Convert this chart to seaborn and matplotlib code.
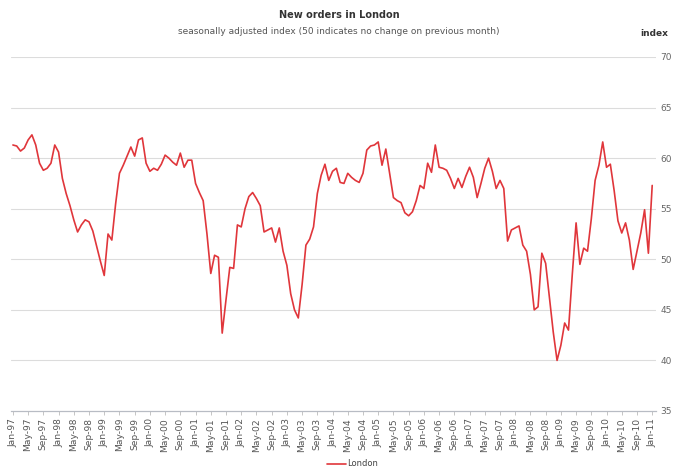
import matplotlib
matplotlib.use("Agg")
import matplotlib.pyplot as plt
import numpy as np
import pandas as pd
import seaborn as sns

# Monthly new-orders index for London, Jan-1997 .. Jan-2011
start_year = 1997
london = [
    61.3, 61.2, 60.7, 61.0, 61.8, 62.3, 61.3, 59.5, 58.8, 59.0, 59.5, 61.3,
    60.6, 58.0, 56.5, 55.3, 53.9, 52.7, 53.4, 53.9, 53.7, 52.8, 51.3, 49.8,
    48.4, 52.5, 51.9, 55.5, 58.5, 59.3, 60.2, 61.1, 60.2, 61.8, 62.0, 59.5,
    58.7, 59.0, 58.8, 59.4, 60.3, 60.0, 59.6, 59.3, 60.5, 59.1, 59.8, 59.8,
    57.5, 56.6, 55.8, 52.5, 48.6, 50.4, 50.2, 42.7, 46.0, 49.2, 49.1, 53.4,
    53.2, 55.0, 56.2, 56.6, 56.0, 55.3, 52.7, 52.9, 53.1, 51.7, 53.1, 50.8,
    49.4, 46.6, 45.0, 44.2, 47.5, 51.4, 52.0, 53.2, 56.5, 58.3, 59.4, 57.8,
    58.7, 59.0, 57.6, 57.5, 58.5, 58.1, 57.8, 57.6, 58.5, 60.8, 61.2, 61.3,
    61.6, 59.3, 60.9, 58.5, 56.1, 55.8, 55.6, 54.6, 54.3, 54.7, 55.8, 57.3,
    57.0, 59.5, 58.6, 61.3, 59.1, 59.0, 58.8, 58.0, 57.0, 58.0, 57.1, 58.2,
    59.1, 58.1, 56.1, 57.5, 59.0, 60.0, 58.7, 57.0, 57.8, 57.0, 51.8, 52.9,
    53.1, 53.3, 51.4, 50.8, 48.5, 45.0, 45.3, 50.6, 49.6, 46.2, 42.8, 40.0,
    41.5, 43.7, 43.0, 48.5, 53.6, 49.5, 51.1, 50.8, 54.0, 57.8, 59.3, 61.6,
    59.1, 59.4, 56.8, 53.8, 52.6, 53.6, 51.9, 49.0, 50.8, 52.6, 54.9, 50.6,
    57.3,
]
month_names = ["Jan", "May", "Sep"]
y_ticks = [35, 40, 45, 50, 55, 60, 65, 70]

df = pd.DataFrame({"month": np.arange(len(london)), "index": london, "series": "London"})

sns.set_style("white")
plt.rcParams["font.family"] = ["DejaVu Sans"]

W, H = 678, 468
fig = plt.figure(figsize=(W / 100, H / 100), dpi=100)
ax = fig.add_axes([11 / W, 1 - 411 / H, 645 / W, 354 / H])

sns.lineplot(data=df, x="month", y="index", hue="series", palette=["#e0363b"],
             linewidth=1.2, ax=ax, legend=True)

# Tick labels every four months
tick_pos = list(range(0, len(london), 4))
tick_lab = []
for p in tick_pos:
    yr = start_year + p // 12
    tick_lab.append(f"{month_names[(p % 12) // 4]}-{yr % 100:02d}")
ax.set_xticks(tick_pos)
ax.set_xticklabels(tick_lab, rotation=90, fontsize=6.6, color="#555555")
ax.set_xlim(-0.5, 169)

ax.set_ylim(35, 70)
ax.set_yticks(y_ticks)
ax.yaxis.tick_right()
ax.set_yticklabels([str(v) for v in y_ticks], fontsize=6.5, color="#666666")
ax.tick_params(axis="y", length=0, pad=3)
ax.tick_params(axis="x", length=3, width=0.6, color="#bbbbbb", pad=2, bottom=True)

for v in y_ticks[1:]:
    ax.axhline(v, color="#dcdcdc", linewidth=0.8, zorder=0)
for s in ["top", "left", "right"]:
    ax.spines[s].set_visible(False)
ax.spines["bottom"].set_color("#b8bcc4")
ax.spines["bottom"].set_linewidth(0.9)
ax.set_xlabel("")
ax.set_ylabel("")

fig.text(0.5, 1 - 15 / H, "New orders in London", ha="center", va="center",
         fontsize=7, fontweight="bold", color="#333333")
fig.text(0.5, 1 - 32 / H, "seasonally adjusted index (50 indicates no change on previous month)",
         ha="center", va="center", fontsize=6.5, color="#555555")
fig.text(654 / W, 1 - 33 / H, "index", ha="center", va="center",
         fontsize=6.5, fontweight="bold", color="#333333")

leg = ax.legend(loc="upper center", bbox_to_anchor=(0.53, -0.125), frameon=False,
                fontsize=6, handlelength=2.2, handletextpad=0.2, borderpad=0)
for t in leg.get_texts():
    t.set_color("#444444")

fig.savefig("out.png", dpi=100, facecolor="white")
